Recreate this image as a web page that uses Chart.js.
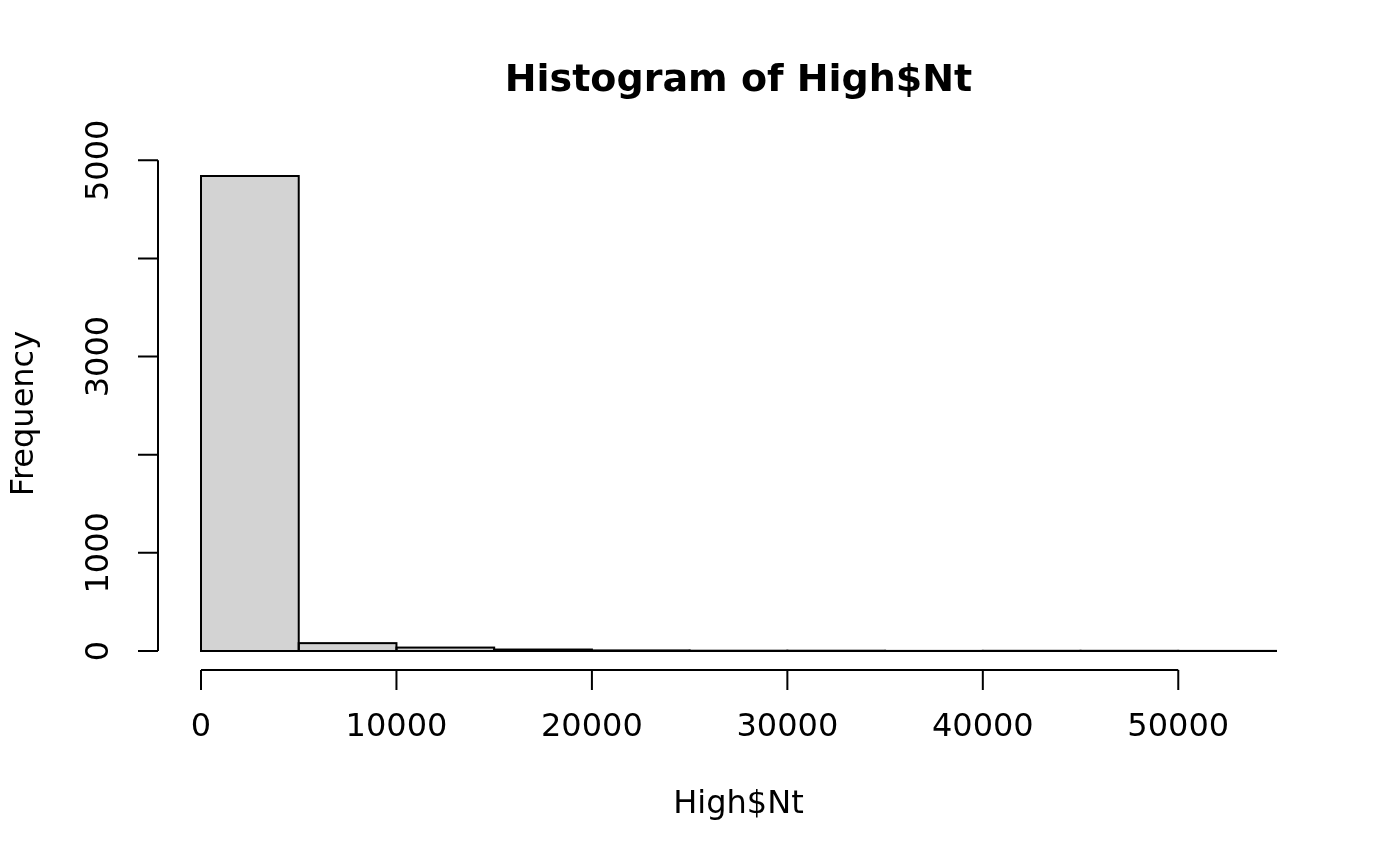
<!DOCTYPE html>
<html><head><meta charset="utf-8">
<script src="https://cdn.jsdelivr.net/npm/chart.js@4.4.1/dist/chart.umd.min.js"></script>
<style>html,body{margin:0;padding:0;background:#fff}#wrap{width:1400px;height:866px}</style>
</head><body><div id="wrap"><canvas id="c" width="1400" height="866"></canvas></div>
<script>
const breaks = [0,5000,10000,15000,20000,25000,30000,35000,40000,45000,50000,55000];
const counts = [4840,80,35,15,6,3,3,1,2,2,1];
const xTicks = [0,10000,20000,30000,40000,50000];
const xTickLabels = ["0","10000","20000","30000","40000","50000"];
const yTicks = [0,1000,2000,3000,4000,5000];
const yTickLabels = ["0","1000","","3000","","5000"];
const titleText = "Histogram of High$Nt";
const xLabel = "High$Nt";
const yLabel = "Frequency";

const FONT = "'DejaVu Sans', sans-serif";
const xSpan = breaks[breaks.length-1]-breaks[0];
const yMax = Math.max(...counts);

// outline each bar (R-style border centred on the rectangle edges)
const outlinePlugin = {
  id: 'rOutline',
  afterDatasetsDraw(chart) {
    const ctx = chart.ctx;
    const meta = chart.getDatasetMeta(0);
    ctx.save();
    ctx.strokeStyle = '#000'; ctx.lineWidth = 2; ctx.lineJoin = 'miter';
    meta.data.forEach(bar => {
      const p = bar.getProps(['x','y','base','width'], true);
      const l = p.x - p.width/2, r = p.x + p.width/2;
      const t = Math.min(p.y, p.base), b = Math.max(p.y, p.base);
      ctx.strokeRect(l, t, r - l, b - t);
    });
    ctx.restore();
  }
};

const axesPlugin = {
  id: 'rAxes',
  afterDraw(chart) {
    const ctx = chart.ctx, xs = chart.scales.x, ys = chart.scales.y;
    ctx.save();
    ctx.strokeStyle = '#000'; ctx.fillStyle = '#000'; ctx.lineWidth = 2;
    // y axis
    const ax = Math.round(xs.left);
    ctx.beginPath();
    ctx.moveTo(ax, ys.getPixelForValue(yTicks[0]));
    ctx.lineTo(ax, ys.getPixelForValue(yTicks[yTicks.length-1]));
    yTicks.forEach(v => { const p = ys.getPixelForValue(v); ctx.moveTo(ax, p); ctx.lineTo(ax-20, p); });
    ctx.stroke();
    ctx.font = "32px " + FONT;
    ctx.textAlign = 'center'; ctx.textBaseline = 'middle';
    yTicks.forEach((v,i) => {
      if (!yTickLabels[i]) return;
      const p = ys.getPixelForValue(v);
      ctx.save(); ctx.translate(100, p); ctx.rotate(-Math.PI/2); ctx.fillText(yTickLabels[i], 0, 0); ctx.restore();
    });
    // x axis
    const ay = Math.round(ys.bottom);
    ctx.beginPath();
    ctx.moveTo(xs.getPixelForValue(xTicks[0]), ay);
    ctx.lineTo(xs.getPixelForValue(xTicks[xTicks.length-1]), ay);
    xTicks.forEach(v => { const p = xs.getPixelForValue(v); ctx.moveTo(p, ay); ctx.lineTo(p, ay+20); });
    ctx.stroke();
    xTicks.forEach((v,i) => { ctx.fillText(xTickLabels[i], xs.getPixelForValue(v), 728); });
    // axis titles
    const cx = (xs.left + xs.right)/2;
    ctx.fillText(xLabel, cx, 805);
    const cy = (ys.top + ys.bottom)/2;
    ctx.save(); ctx.translate(25, cy); ctx.rotate(-Math.PI/2); ctx.fillText(yLabel, 0, 0); ctx.restore();
    // title
    ctx.font = "bold 38px " + FONT;
    ctx.fillText(titleText, cx, 81);
    ctx.restore();
  }
};

new Chart(document.getElementById('c'), {
  type: 'bar',
  data: {
    datasets: [{
      data: counts.map((c,i) => ({x: (breaks[i]+breaks[i+1])/2, y: c})),
      backgroundColor: '#d3d3d3',
      borderWidth: 0,
      barPercentage: 1,
      categoryPercentage: 1
    }]
  },
  options: {
    responsive: false,
    animation: false,
    devicePixelRatio: 1,
    layout: { padding: { left: 158, right: 81, top: 157, bottom: 196 } },
    plugins: { legend: { display: false }, tooltip: { enabled: false }, title: { display: false } },
    scales: {
      x: { type: 'linear', display: false, offset: false, grid: { offset: false }, min: breaks[0]-0.04*xSpan, max: breaks[breaks.length-1]+0.04*xSpan },
      y: { type: 'linear', display: false, min: -0.04*yMax, max: 1.04*yMax }
    }
  },
  plugins: [outlinePlugin, axesPlugin]
});
</script>
</body></html>
